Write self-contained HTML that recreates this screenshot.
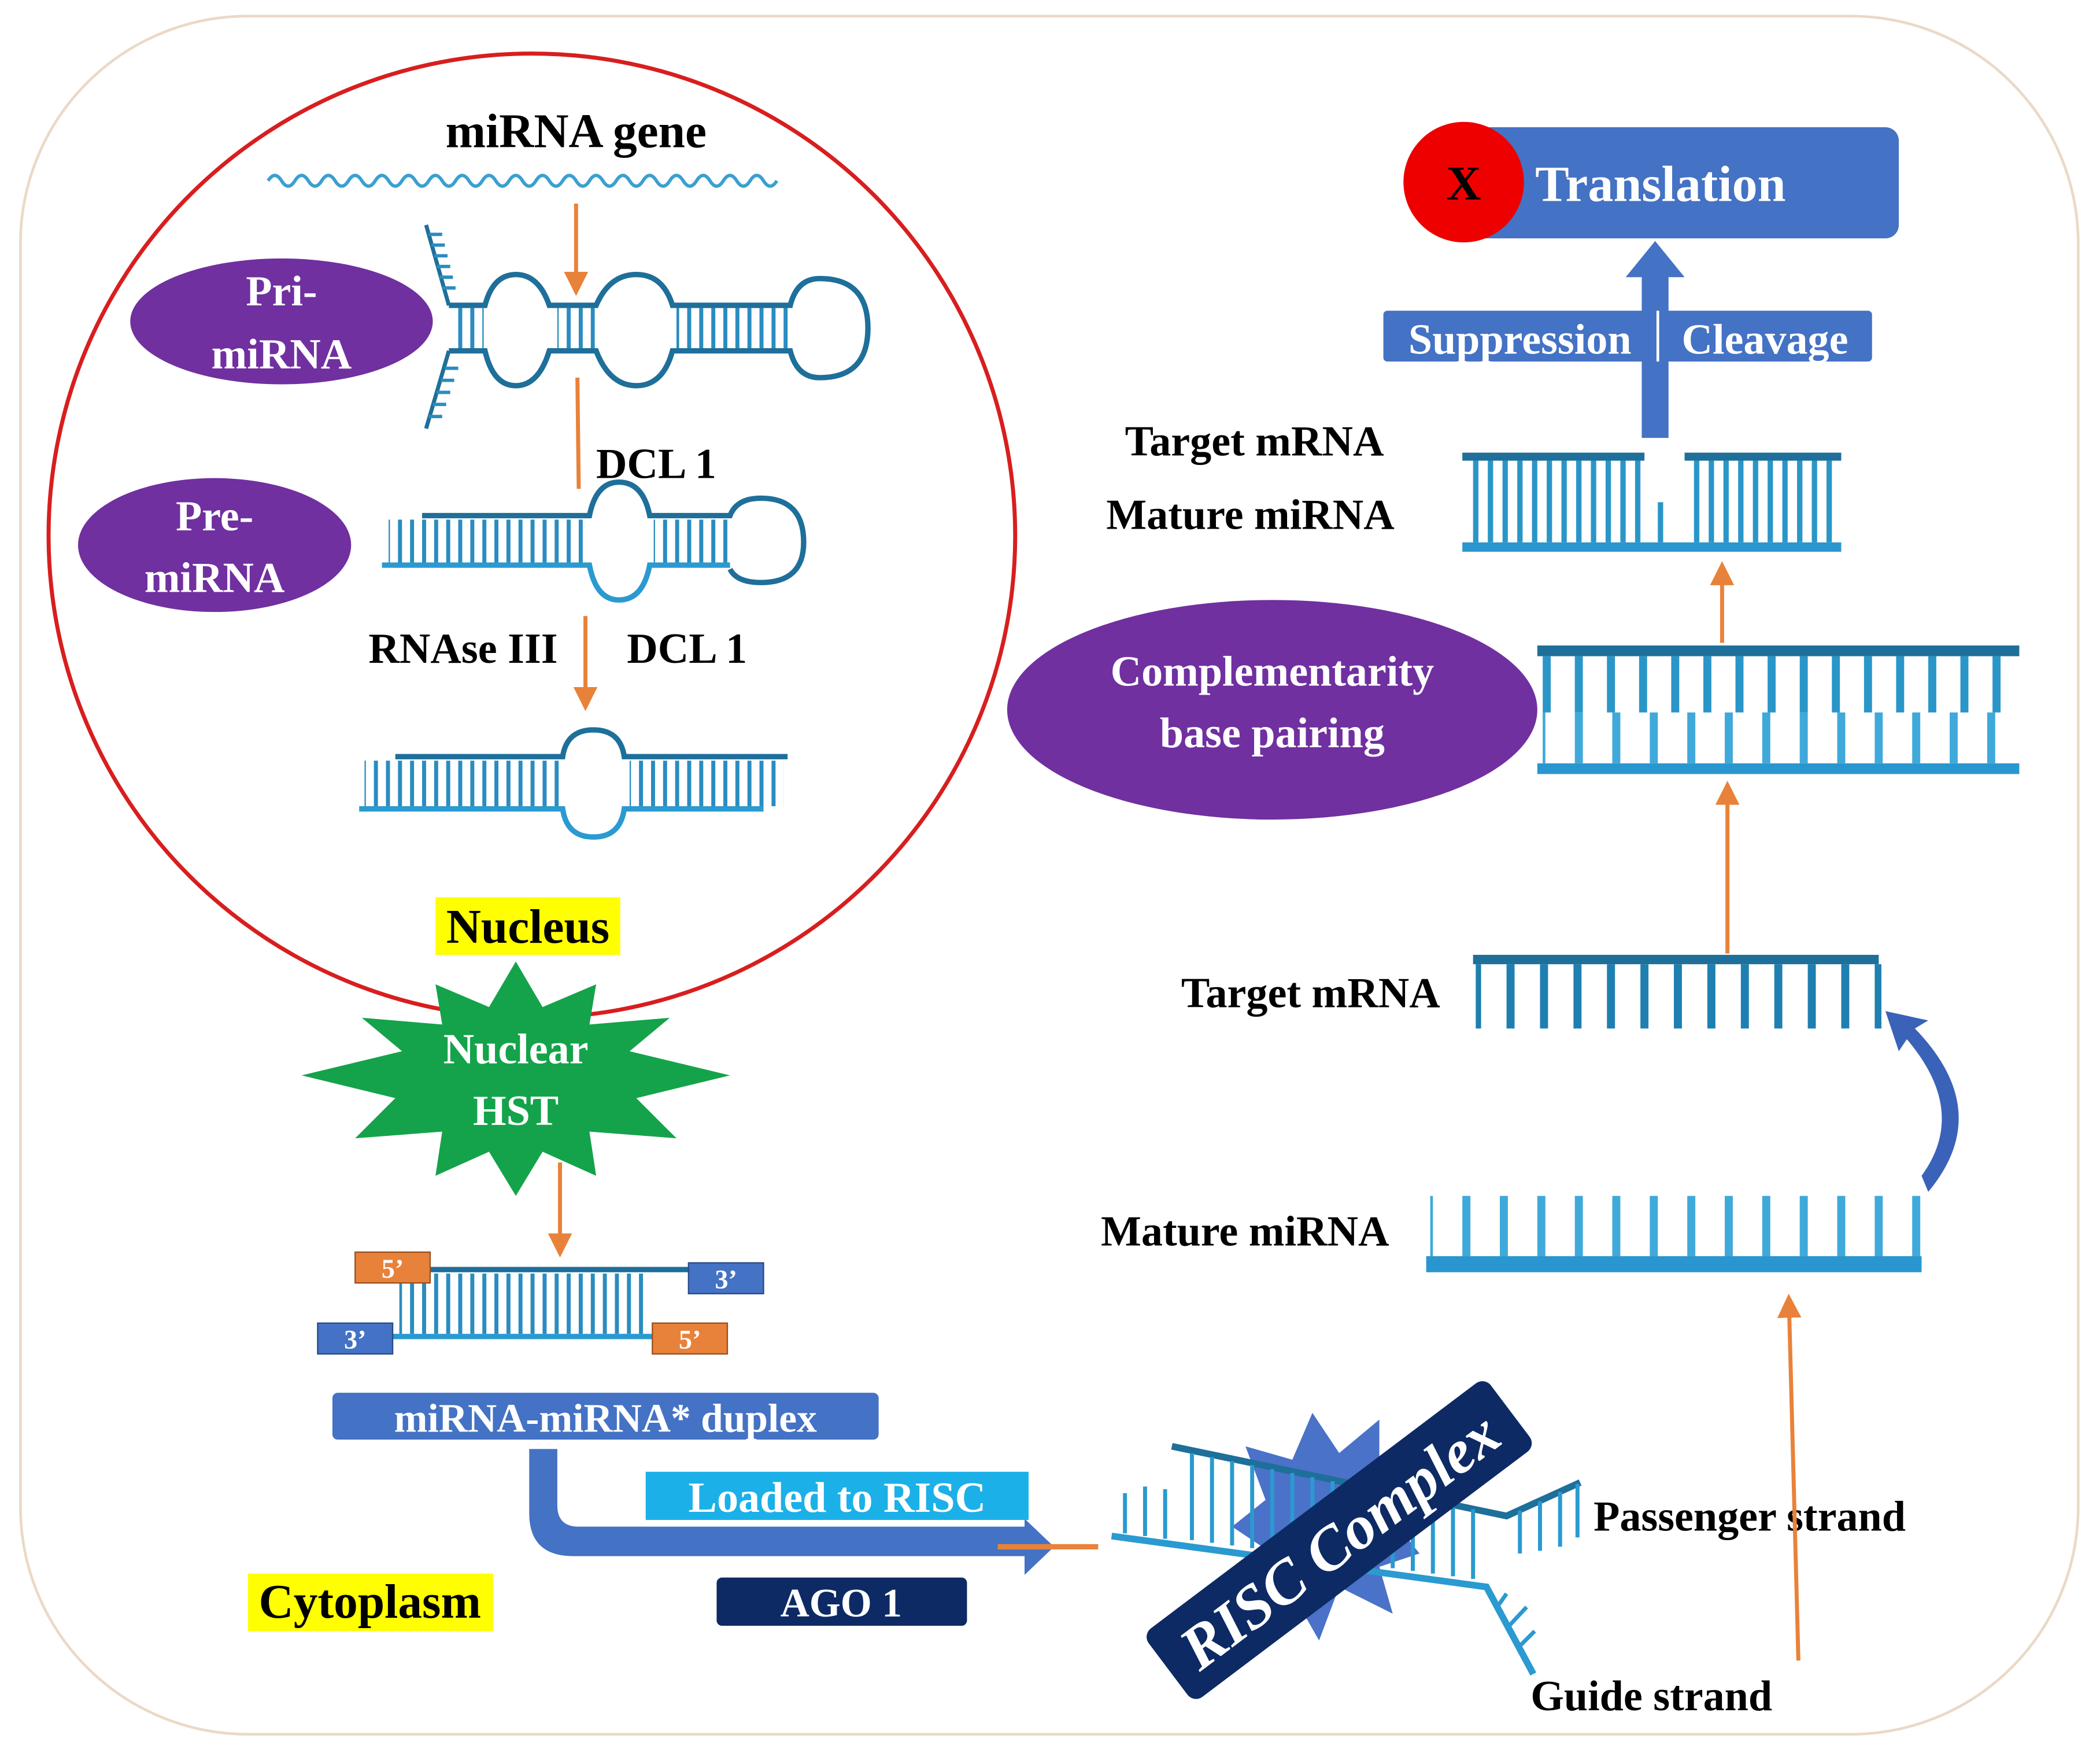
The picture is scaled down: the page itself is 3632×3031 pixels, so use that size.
<!DOCTYPE html>
<html><head><meta charset="utf-8"><style>
html,body{margin:0;padding:0;background:#fff;}
svg{display:block;}
text{font-family:"Liberation Serif",serif;font-weight:bold;}
</style></head><body>
<svg width="3632" height="3031" viewBox="0 0 1568 1309" xmlns="http://www.w3.org/2000/svg">
<defs>
<pattern id="t1" width="9" height="10" patternUnits="userSpaceOnUse"><rect x="0" y="0" width="3" height="10" fill="#2a8cc0"/></pattern>
<pattern id="t2" width="25" height="10" patternUnits="userSpaceOnUse"><rect x="0" y="0" width="6" height="10" fill="#1e7fb0"/></pattern>
<pattern id="t3" width="28" height="10" patternUnits="userSpaceOnUse"><rect x="0" y="0" width="6" height="10" fill="#3fa9da"/></pattern>
<pattern id="t4" width="24" height="10" patternUnits="userSpaceOnUse"><rect x="0" y="0" width="6" height="10" fill="#2a96c8"/></pattern>
<pattern id="t5" width="11" height="10" patternUnits="userSpaceOnUse"><rect x="0" y="0" width="4" height="10" fill="#2a96c8"/></pattern>
<marker id="oa" markerWidth="6" markerHeight="6" refX="3" refY="3" orient="auto" markerUnits="strokeWidth"><path d="M0,0 L6,3 L0,6z" fill="#e8823a"/></marker>
</defs>
<rect x="15" y="12" width="1537" height="1283" rx="170" fill="#fff" stroke="#ead9c6" stroke-width="2"/>
<ellipse cx="397" cy="400" rx="361" ry="360" fill="none" stroke="#d81e1e" stroke-width="3"/>

<text x="430" y="110" font-size="36" text-anchor="middle">miRNA gene</text>
<path d="M200,135 q5,-8 10,0 t10,0 t10,0 t10,0 t10,0 t10,0 t10,0 t10,0 t10,0 t10,0 t10,0 t10,0 t10,0 t10,0 t10,0 t10,0 t10,0 t10,0 t10,0 t10,0 t10,0 t10,0 t10,0 t10,0 t10,0 t10,0 t10,0 t10,0 t10,0 t10,0 t10,0 t10,0 t10,0 t10,0 t10,0 t10,0 t10,0 t10,0" fill="none" stroke="#3aa0d0" stroke-width="2.5" transform="translate(0,0)"/>
<line x1="430" y1="152" x2="430" y2="212" stroke="#e8823a" stroke-width="3" marker-end="url(#oa)"/>

<ellipse cx="210" cy="240" rx="113" ry="47" fill="#7030a0"/>
<text x="210" y="228" font-size="32" fill="#fff" text-anchor="middle">Pri-</text>
<text x="210" y="275" font-size="32" fill="#fff" text-anchor="middle">miRNA</text>
<g fill="none" stroke="#1e6f9a" stroke-width="4">
<path d="M335,228 L362,228 Q368,205 385,205 Q402,205 410,228 L445,228 Q455,205 475,205 Q495,205 502,228 L590,228 Q595,208 612,208 Q648,208 648,245 Q648,282 612,282 Q595,282 590,262 L502,262 Q495,288 475,288 Q455,288 445,262 L410,262 Q402,288 385,288 Q368,288 362,262 L335,262"/>
<path d="M335,228 L318,168 M335,262 L318,320" stroke-width="3"/>
</g>
<rect x="337" y="230" width="24" height="30" fill="url(#t1)"/>
<rect x="416" y="230" width="28" height="30" fill="url(#t1)"/>
<rect x="505" y="230" width="84" height="30" fill="url(#t1)"/>
<g stroke="#2a8cc0" stroke-width="2.5">
<line x1="320" y1="175" x2="330" y2="175"/><line x1="322" y1="183" x2="332" y2="183"/><line x1="324" y1="191" x2="334" y2="191"/><line x1="326" y1="199" x2="336" y2="199"/><line x1="328" y1="207" x2="338" y2="207"/><line x1="330" y1="215" x2="340" y2="215"/>
<line x1="332" y1="275" x2="342" y2="275"/><line x1="329" y1="284" x2="339" y2="284"/><line x1="326" y1="293" x2="336" y2="293"/><line x1="323" y1="302" x2="333" y2="302"/><line x1="320" y1="311" x2="330" y2="311"/>
</g>
<line x1="431" y1="282" x2="432" y2="365" stroke="#e8823a" stroke-width="3"/>
<text x="445" y="357" font-size="32">DCL 1</text>

<ellipse cx="160" cy="407" rx="102" ry="50" fill="#7030a0"/>
<text x="160" y="396" font-size="32" fill="#fff" text-anchor="middle">Pre-</text>
<text x="160" y="442" font-size="32" fill="#fff" text-anchor="middle">miRNA</text>
<g fill="none" stroke-width="4">
<path d="M315,385 L440,385 Q445,360 462,360 Q480,360 485,385 L545,385 Q550,372 568,372 Q600,372 600,405 Q600,435 568,435 Q550,435 545,425" stroke="#1e6f9a"/>
<path d="M285,422 L440,422 Q445,448 462,448 Q480,448 485,422 L545,422" stroke="#2a9ad0"/>
</g>
<rect x="290" y="388" width="148" height="32" fill="url(#t1)"/>
<rect x="488" y="388" width="56" height="32" fill="url(#t1)"/>
<text x="275" y="495" font-size="32">RNAse III</text>
<text x="468" y="495" font-size="32">DCL 1</text>
<line x1="437" y1="460" x2="437" y2="522" stroke="#e8823a" stroke-width="3" marker-end="url(#oa)"/>

<g fill="none" stroke-width="4">
<path d="M295,565 L420,565 Q423,545 443,545 Q463,545 466,565 L588,565" stroke="#1e6f9a"/>
<path d="M268,604 L420,604 Q423,625 443,625 Q463,625 466,604 L570,604" stroke="#2a9ad0"/>
</g>
<rect x="272" y="568" width="146" height="34" fill="url(#t1)"/>
<rect x="470" y="568" width="115" height="34" fill="url(#t1)"/>

<rect x="325" y="670" width="138" height="43" fill="#ffff00"/>
<text x="394" y="704" font-size="36" text-anchor="middle">Nucleus</text>

<polygon fill="#14a34a" points="385,718 405,752 445,735 440,765 500,760 470,785 545,803 475,820 505,850 440,845 445,878 405,860 385,893 365,860 325,878 330,845 265,850 295,820 225,803 300,785 270,760 330,765 325,735 365,752"/>
<text x="385" y="794" font-size="32" fill="#fff" text-anchor="middle">Nuclear</text>
<text x="385" y="840" font-size="32" fill="#fff" text-anchor="middle">HST</text>
<line x1="418" y1="868" x2="418" y2="930" stroke="#e8823a" stroke-width="3" marker-end="url(#oa)"/>

<line x1="320" y1="948" x2="515" y2="948" stroke="#1e6f9a" stroke-width="4"/>
<line x1="290" y1="998" x2="490" y2="998" stroke="#2a9ad0" stroke-width="4"/>
<rect x="298" y="951" width="185" height="45" fill="url(#t1)"/>
<rect x="265" y="935" width="56" height="23" fill="#e8823a" stroke="#9a5020"/>
<text x="293" y="954" font-size="20" fill="#fff" text-anchor="middle">5’</text>
<rect x="514" y="943" width="56" height="23" fill="#4472c4" stroke="#2a4a8a"/>
<text x="542" y="962" font-size="20" fill="#fff" text-anchor="middle">3’</text>
<rect x="237" y="988" width="56" height="23" fill="#4472c4" stroke="#2a4a8a"/>
<text x="265" y="1007" font-size="20" fill="#fff" text-anchor="middle">3’</text>
<rect x="487" y="988" width="56" height="23" fill="#e8823a" stroke="#9a5020"/>
<text x="515" y="1007" font-size="20" fill="#fff" text-anchor="middle">5’</text>

<rect x="248" y="1040" width="408" height="35" rx="4" fill="#4472c4"/>
<text x="452" y="1069" font-size="30" fill="#fff" text-anchor="middle">miRNA-miRNA* duplex</text>

<path d="M395,1082 L395,1130 Q395,1162 428,1162 L765,1162 L765,1176 L787,1155 L765,1134 L765,1140 L432,1140 Q416,1140 416,1124 L416,1082z" fill="#4472c4"/>
<rect x="482" y="1099" width="286" height="36" fill="#1cb0e8"/>
<text x="625" y="1129" font-size="32" fill="#fff" text-anchor="middle">Loaded to RISC</text>
<line x1="745" y1="1155" x2="820" y2="1155" stroke="#e8823a" stroke-width="4"/>
<rect x="535" y="1178" width="187" height="36" rx="4" fill="#0d2a64"/>
<text x="628" y="1207" font-size="30" fill="#fff" text-anchor="middle">AGO 1</text>
<rect x="185" y="1175" width="183" height="43" fill="#ffff00"/>
<text x="276" y="1208" font-size="36" text-anchor="middle">Cytoplasm</text>

<polygon fill="#4a72c8" points="980,1055 1000,1085 1030,1060 1030,1100 1070,1110 1040,1135 1060,1160 1030,1170 1040,1205 1000,1185 985,1225 965,1190 930,1200 950,1160 920,1140 945,1120 930,1080 965,1090"/>
<g stroke-width="5" fill="none">
<path d="M875,1080 L1125,1132 L1180,1107" stroke="#1e6f9a"/>
<path d="M830,1147 L1110,1185 L1145,1250" stroke="#2a9ad0"/>
</g>
<g stroke="#2a9ad0" stroke-width="3">
<line x1="840" y1="1145" x2="840" y2="1115"/><line x1="855" y1="1147" x2="855" y2="1110"/><line x1="870" y1="1149" x2="870" y2="1112"/>
<line x1="890" y1="1085" x2="890" y2="1150"/><line x1="905" y1="1088" x2="905" y2="1152"/><line x1="920" y1="1091" x2="920" y2="1154"/><line x1="935" y1="1094" x2="935" y2="1156"/><line x1="950" y1="1097" x2="950" y2="1158"/><line x1="965" y1="1100" x2="965" y2="1160"/><line x1="980" y1="1103" x2="980" y2="1162"/><line x1="995" y1="1106" x2="995" y2="1164"/><line x1="1010" y1="1109" x2="1010" y2="1167"/><line x1="1025" y1="1112" x2="1025" y2="1169"/><line x1="1040" y1="1115" x2="1040" y2="1171"/><line x1="1055" y1="1118" x2="1055" y2="1173"/><line x1="1070" y1="1121" x2="1070" y2="1175"/><line x1="1085" y1="1124" x2="1085" y2="1177"/><line x1="1100" y1="1127" x2="1100" y2="1179"/>
<line x1="1135" y1="1128" x2="1135" y2="1160"/><line x1="1150" y1="1121" x2="1150" y2="1158"/><line x1="1165" y1="1114" x2="1165" y2="1155"/><line x1="1178" y1="1108" x2="1178" y2="1148"/>
<line x1="1118" y1="1200" x2="1125" y2="1190"/><line x1="1126" y1="1215" x2="1140" y2="1200"/><line x1="1134" y1="1230" x2="1146" y2="1218"/>
</g>
<g transform="translate(1000,1150) rotate(-37)">
<rect x="-160" y="-32" width="320" height="64" rx="8" fill="#0d2a64"/>
<text x="0" y="16" font-size="46" font-style="italic" font-weight="normal" fill="#fff" text-anchor="middle">RISC Complex</text>
</g>
<text x="1190" y="1143" font-size="32">Passenger strand</text>
<text x="1143" y="1277" font-size="32">Guide strand</text>
<line x1="1343" y1="1240" x2="1336" y2="975" stroke="#e8823a" stroke-width="3" marker-end="url(#oa)"/>

<text x="822" y="930" font-size="32">Mature miRNA</text>
<rect x="1065" y="938" width="370" height="12" fill="#2a96d0"/>
<rect x="1068" y="893" width="370" height="45" fill="url(#t3)"/>
<path d="M1440,890 Q1490,830 1430,768 L1440,762 L1408,755 L1418,785 L1424,776 Q1470,830 1435,878z" fill="#3a62b8"/>

<text x="882" y="752" font-size="32">Target mRNA</text>
<rect x="1100" y="713" width="303" height="7" fill="#1e6f9a"/>
<rect x="1102" y="720" width="303" height="48" fill="url(#t2)"/>
<line x1="1290" y1="712" x2="1290" y2="592" stroke="#e8823a" stroke-width="3" marker-end="url(#oa)"/>

<ellipse cx="950" cy="530" rx="198" ry="82" fill="#7030a0"/>
<text x="950" y="512" font-size="32" fill="#fff" text-anchor="middle">Complementarity</text>
<text x="950" y="558" font-size="32" fill="#fff" text-anchor="middle">base pairing</text>
<rect x="1148" y="482" width="360" height="8" fill="#1e6f9a"/>
<rect x="1148" y="570" width="360" height="8" fill="#2a96d0"/>
<rect x="1152" y="490" width="356" height="42" fill="url(#t4)"/>
<rect x="1152" y="532" width="356" height="38" fill="url(#t3)"/>
<line x1="1286" y1="480" x2="1286" y2="428" stroke="#e8823a" stroke-width="3" marker-end="url(#oa)"/>

<text x="840" y="340" font-size="32">Target mRNA</text>
<text x="826" y="395" font-size="32">Mature miRNA</text>
<rect x="1092" y="338" width="136" height="6" fill="#1e6f9a"/>
<rect x="1258" y="338" width="117" height="6" fill="#1e6f9a"/>
<rect x="1092" y="405" width="283" height="7" fill="#2a96d0"/>
<rect x="1094" y="344" width="132" height="61" fill="url(#t5)"/>
<rect x="1262" y="344" width="113" height="61" fill="url(#t5)"/>
<rect x="1238" y="375" width="4" height="30" fill="#2a96c8"/>

<rect x="1226" y="205" width="20" height="122" fill="#4472c4"/>
<polygon points="1214,207 1236,180 1258,207" fill="#4472c4"/>
<rect x="1033" y="232" width="365" height="38" rx="3" fill="#4472c4"/>
<line x1="1238" y1="232" x2="1238" y2="270" stroke="#fff" stroke-width="2"/>
<text x="1135" y="264" font-size="32" fill="#fff" text-anchor="middle">Suppression</text>
<text x="1318" y="264" font-size="32" fill="#fff" text-anchor="middle">Cleavage</text>
<rect x="1085" y="95" width="333" height="83" rx="10" fill="#4472c4"/>
<text x="1240" y="150" font-size="38" fill="#fff" text-anchor="middle">Translation</text>
<circle cx="1093" cy="136" r="45" fill="#ee0000"/>
<text x="1093" y="149" font-size="36" text-anchor="middle">X</text>
</svg>
</body></html>
